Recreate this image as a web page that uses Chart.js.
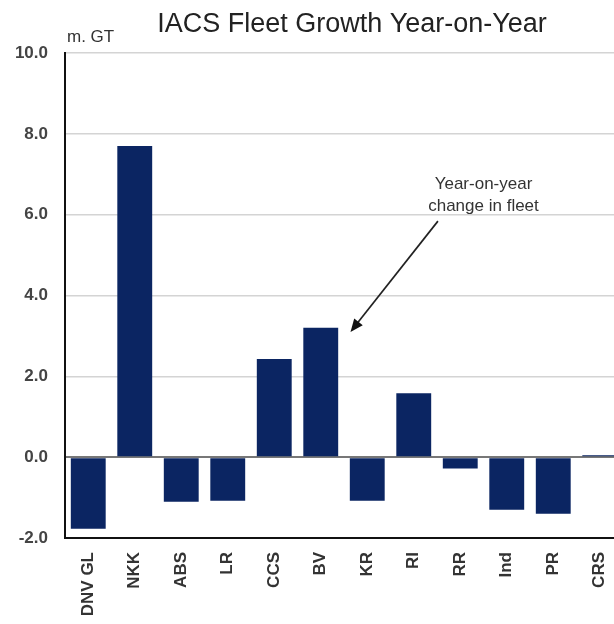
<!DOCTYPE html>
<html>
<head>
<meta charset="utf-8">
<script src="https://cdn.jsdelivr.net/npm/chart.js@4"></script>
<style>
  html, body { margin: 0; padding: 0; overflow: hidden; background: #fff; }
  canvas { display: block; }
</style>
</head>
<body>
<canvas id="fleetChart" width="630" height="624"></canvas>
<script>
const societies = ['DNV GL', 'NKK', 'ABS', 'LR', 'CCS', 'BV', 'KR', 'RI', 'RR', 'Ind', 'PR', 'CRS'];
const yoyChange = [-1.77, 7.7, -1.1, -1.08, 2.43, 3.2, -1.08, 1.58, -0.28, -1.3, -1.4, 0.05];
const yTicks = [-2, 0, 2, 4, 6, 8, 10];

// callout, in data units (category index, m. GT)
const noteLines = ['Year-on-year', 'change in fleet'];
const noteAt = { x: 8.5, y: 6.63 };
const arrowFrom = { x: 7.52, y: 5.84 };
const arrowTo = { x: 5.64, y: 3.1 };

const FONT = '"Liberation Sans", Arial, sans-serif';

const decorations = {
    id: 'decorations',
    afterDraw(chart) {
        const { ctx, scales: { x, y } } = chart;
        ctx.save();
        ctx.fillStyle = '#222';
        ctx.textAlign = 'center';
        ctx.textBaseline = 'alphabetic';
        ctx.font = '27px ' + FONT;
        ctx.fillText('IACS Fleet Growth Year-on-Year', 352, 32);

        ctx.font = '17px ' + FONT;
        ctx.textAlign = 'left';
        ctx.fillStyle = '#333';
        ctx.fillText('m. GT', 67, 42);

        // callout text
        ctx.font = '17px ' + FONT;
        ctx.textAlign = 'center';
        const tx = x.getPixelForValue(noteAt.x);
        const ty = y.getPixelForValue(noteAt.y);
        noteLines.forEach((l, i) => ctx.fillText(l, tx, ty + i * 22));

        // arrow
        const x1 = x.getPixelForValue(arrowFrom.x), y1 = y.getPixelForValue(arrowFrom.y);
        const x2 = x.getPixelForValue(arrowTo.x), y2 = y.getPixelForValue(arrowTo.y);
        const ang = Math.atan2(y2 - y1, x2 - x1);
        const head = 14;
        ctx.strokeStyle = '#222';
        ctx.lineWidth = 1.7;
        ctx.beginPath();
        ctx.moveTo(x1, y1);
        ctx.lineTo(x2 - Math.cos(ang) * head * 0.8, y2 - Math.sin(ang) * head * 0.8);
        ctx.stroke();
        ctx.fillStyle = '#111';
        ctx.beginPath();
        ctx.moveTo(x2, y2);
        ctx.lineTo(x2 - head * Math.cos(ang - 0.4), y2 - head * Math.sin(ang - 0.4));
        ctx.lineTo(x2 - head * Math.cos(ang + 0.4), y2 - head * Math.sin(ang + 0.4));
        ctx.closePath();
        ctx.fill();
        ctx.restore();
    }
};

new Chart(document.getElementById('fleetChart'), {
    type: 'bar',
    data: {
        labels: societies,
        datasets: [{
            data: yoyChange,
            backgroundColor: '#0b2562',
            categoryPercentage: 1,
            barPercentage: 0.75
        }]
    },
    options: {
        responsive: false,
        animation: false,
        layout: { padding: { top: 53, left: 0, right: 7, bottom: 0 } },
        plugins: { legend: { display: false }, tooltip: { enabled: false } },
        scales: {
            x: {
                grid: { display: false, drawTicks: false },
                border: { color: '#111', width: 2 },
                ticks: {
                    color: '#333',
                    font: { family: FONT, size: 17, weight: 'bold' },
                    minRotation: 90, maxRotation: 90,
                    padding: 14
                },
                afterFit(s) { s.height = 86; s.paddingLeft = 0; s.paddingRight = 0; }
            },
            y: {
                min: -2, max: 10,
                afterBuildTicks(s) { s.ticks = yTicks.map(v => ({ value: v })); },
                afterFit(s) { s.width = 65; },
                grid: {
                    drawTicks: false,
                    color: c => c.tick && c.tick.value === 0 ? '#777' : '#d4d4d4',
                    lineWidth: c => c.tick && c.tick.value === 0 ? 2 : 1.5
                },
                border: { color: '#111', width: 2 },
                ticks: {
                    color: '#444',
                    font: { family: FONT, size: 17, weight: 'bold' },
                    padding: 17,
                    callback: v => v.toFixed(1)
                }
            }
        }
    },
    plugins: [decorations]
});
</script>
</body>
</html>
